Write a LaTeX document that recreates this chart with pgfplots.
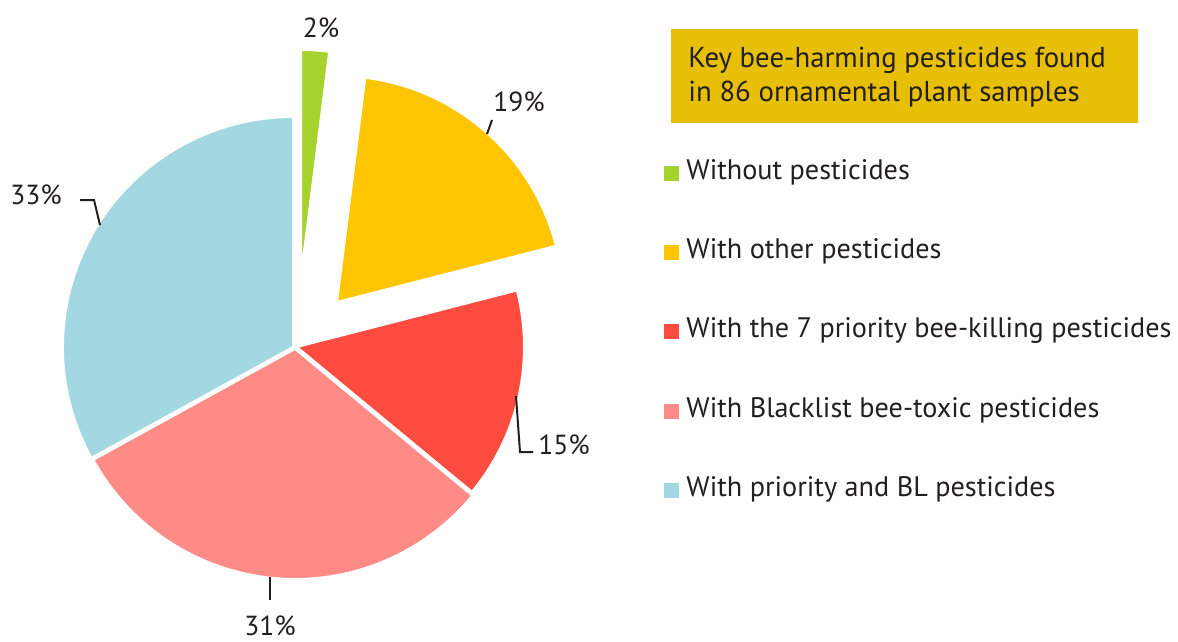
\documentclass[border=0pt]{standalone}
\usepackage{pgfplots}
\pgfplotsset{compat=1.18}
\usepackage{pgfplotstable}
\usepackage{fontspec}
\setmainfont{PT Sans}
\definecolor{cText}{HTML}{231F20}
\definecolor{cGold}{HTML}{E8BF07}
\definecolor{pie0}{HTML}{A5D22D}
\definecolor{pie1}{HTML}{FFC600}
\definecolor{pie2}{HTML}{FF4B40}
\definecolor{pie3}{HTML}{FF8B87}
\definecolor{pie4}{HTML}{A3D7E2}

% share (%) of each group, apex position of each slice (px) and radius (px)
\pgfplotstableread{
idx pct apexx apexy rad
0 2  301 275 225
1 19 337 302 226
2 15 297 347 227
3 31 295 349 230
4 33 293 347 230
}\piedata

\begin{document}
\begin{tikzpicture}
\gdef\cumsum{0}
\pgfplotsinvokeforeach{0,...,4}{%
  \pgfplotstablegetelem{#1}{pct}\of\piedata
  \pgfmathsetmacro\p{\pgfplotsretval}%
  \pgfmathsetmacro\a{90-3.6*\cumsum}%
  \pgfmathsetmacro\b{90-3.6*(\cumsum+\p)}%
  \expandafter\xdef\csname pieA#1\endcsname{\a}%
  \expandafter\xdef\csname pieB#1\endcsname{\b}%
  \pgfmathsetmacro\c{\cumsum+\p}\xdef\cumsum{\c}%
  \pgfplotstablegetelem{#1}{apexx}\of\piedata
  \expandafter\xdef\csname pieX#1\endcsname{\pgfplotsretval}%
  \pgfplotstablegetelem{#1}{apexy}\of\piedata
  \expandafter\xdef\csname pieY#1\endcsname{\pgfplotsretval}%
  \pgfplotstablegetelem{#1}{rad}\of\piedata
  \pgfmathsetmacro\r{0.5*\pgfplotsretval}%
  \expandafter\xdef\csname pieR#1\endcsname{\r pt}%
}
\begin{axis}[
  width=589pt, height=321pt, scale only axis,
  xmin=0, xmax=1178, ymin=0, ymax=642, y dir=reverse,
  hide axis, clip=false,
  legend style={at={(axis cs:664,161)}, anchor=north west, draw=none, fill=none,
    inner sep=0pt, row sep=27.6pt, font=\fontsize{14.1}{16}\selectfont,
    nodes={inner sep=0pt, text height=9pt, text depth=3pt, text=cText},
    /tikz/every odd column/.append style={column sep=3.6pt}},
  legend cell align=left,
]
\pgfplotsinvokeforeach{0,...,4}{%
  \fill[fill=pie#1, draw=white, line width=1pt, line join=round]
    (axis cs:\csname pieX#1\endcsname,\csname pieY#1\endcsname)
    -- ++(\csname pieA#1\endcsname:\csname pieR#1\endcsname)
    arc[start angle=\csname pieA#1\endcsname, end angle=\csname pieB#1\endcsname,
        radius=\csname pieR#1\endcsname] -- cycle;
}
% legend
\addlegendimage{legend image code/.code={\fill[pie0] (0pt,-3.5pt) rectangle (7pt,3.5pt);}}
\addlegendentry{Without pesticides}
\addlegendimage{legend image code/.code={\fill[pie1] (0pt,-3.5pt) rectangle (7pt,3.5pt);}}
\addlegendentry{With other pesticides}
\addlegendimage{legend image code/.code={\fill[pie2] (0pt,-3.5pt) rectangle (7pt,3.5pt);}}
\addlegendentry{With the 7 priority bee-killing pesticides}
\addlegendimage{legend image code/.code={\fill[pie3] (0pt,-3.5pt) rectangle (7pt,3.5pt);}}
\addlegendentry{With Blacklist bee-toxic pesticides}
\addlegendimage{legend image code/.code={\fill[pie4] (0pt,-3.5pt) rectangle (7pt,3.5pt);}}
\addlegendentry{With priority and BL pesticides}
% title box
\fill[cGold] (axis cs:671,29) rectangle (axis cs:1138,123);
\node[anchor=west, align=left, inner sep=0pt, text=cText,
      font=\fontsize{14.4}{17}\selectfont] at (axis cs:688,77)
  {Key bee-harming pesticides found\\in 86 ornamental plant samples};
% percentage labels and leader lines
\tikzset{pl/.style={text=cText, inner sep=0pt, font=\fontsize{13.8}{16}\selectfont}}
\node[pl] at (axis cs:321,28) {2\%};
\node[pl] at (axis cs:519,102) {19\%};
\node[pl] at (axis cs:36,195) {33\%};
\node[pl] at (axis cs:564,445) {15\%};
\node[pl] at (axis cs:270,626) {31\%};
\draw[cText, line width=1pt] (axis cs:487,134) -- (axis cs:492,120);
\draw[cText, line width=1pt] (axis cs:80,200) -- (axis cs:94,200) -- (axis cs:100,225);
\draw[cText, line width=1pt] (axis cs:516,396) -- (axis cs:520,452) -- (axis cs:533,452);
\draw[cText, line width=1pt] (axis cs:270,577) -- (axis cs:270,600);
\coordinate (BL) at (axis cs:0,642);
\coordinate (TR) at (axis cs:1178,0);
\end{axis}
\pgfresetboundingbox
\path (BL) rectangle (TR);
\end{tikzpicture}
\end{document}
